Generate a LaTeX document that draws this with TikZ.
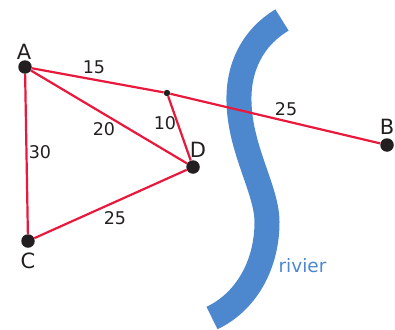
\documentclass[tikz,border=0pt]{standalone}
\usepackage{fontspec}
\setmainfont{DejaVu Sans}
\definecolor{riverblue}{HTML}{4D88CF}
\definecolor{edgered}{HTML}{E8193C}
\definecolor{ink}{HTML}{231F20}
\tikzset{
  bigdot/.style={circle,fill=ink,inner sep=0pt,minimum size=13.5pt},
  smalldot/.style={circle,fill=ink,inner sep=0pt,minimum size=6.5pt},
  edge/.style={draw=edgered,line width=2.2pt},
  letter/.style={text=ink,inner sep=0pt,font=\fontsize{21}{21}\selectfont},
  num/.style={text=ink,inner sep=0pt,font=\fontsize{17.5}{17.5}\selectfont},
}
\begin{document}
\begin{tikzpicture}[x=1pt,y=-1pt]
\useasboundingbox (0,0) rectangle (395,329);
\draw[riverblue,line width=25pt] (282,20) .. controls (252,38) and (238,68) .. (239,102)
  .. controls (240,150) and (267,190) .. (267,222)
  .. controls (267,265) and (246,302) .. (212,318);
\node[bigdot] (A) at (25,67) {};
\node[bigdot] (B) at (387,145) {};
\node[bigdot] (C) at (28,241) {};
\node[bigdot] (D) at (193,167) {};
\node[smalldot] (J) at (167,93) {};
\draw[edge] (A) -- (J);
\draw[edge] (J) -- (B);
\draw[edge] (A) -- (C);
\draw[edge] (A) -- (D);
\draw[edge] (J) -- (D);
\draw[edge] (C) -- (D);
\node[letter] (la) at (24,52) {A};
\node[letter] (lb) at (387,127) {B};
\node[letter] (lc) at (28,261) {C};
\node[letter] (ld) at (198,150) {D};
\node[num] (n1) at (94,67) {15};
\node[num] (n2) at (286,109) {25};
\node[num] (n3) at (104,129) {20};
\node[num] (n4) at (165,123) {10};
\node[num] (n5) at (40,152) {30};
\node[num] (n6) at (115,218) {25};
\node[num,text=riverblue,font=\fontsize{18.5}{18.5}\selectfont] (r) at (302.5,266) {rivier};
\end{tikzpicture}
\end{document}
